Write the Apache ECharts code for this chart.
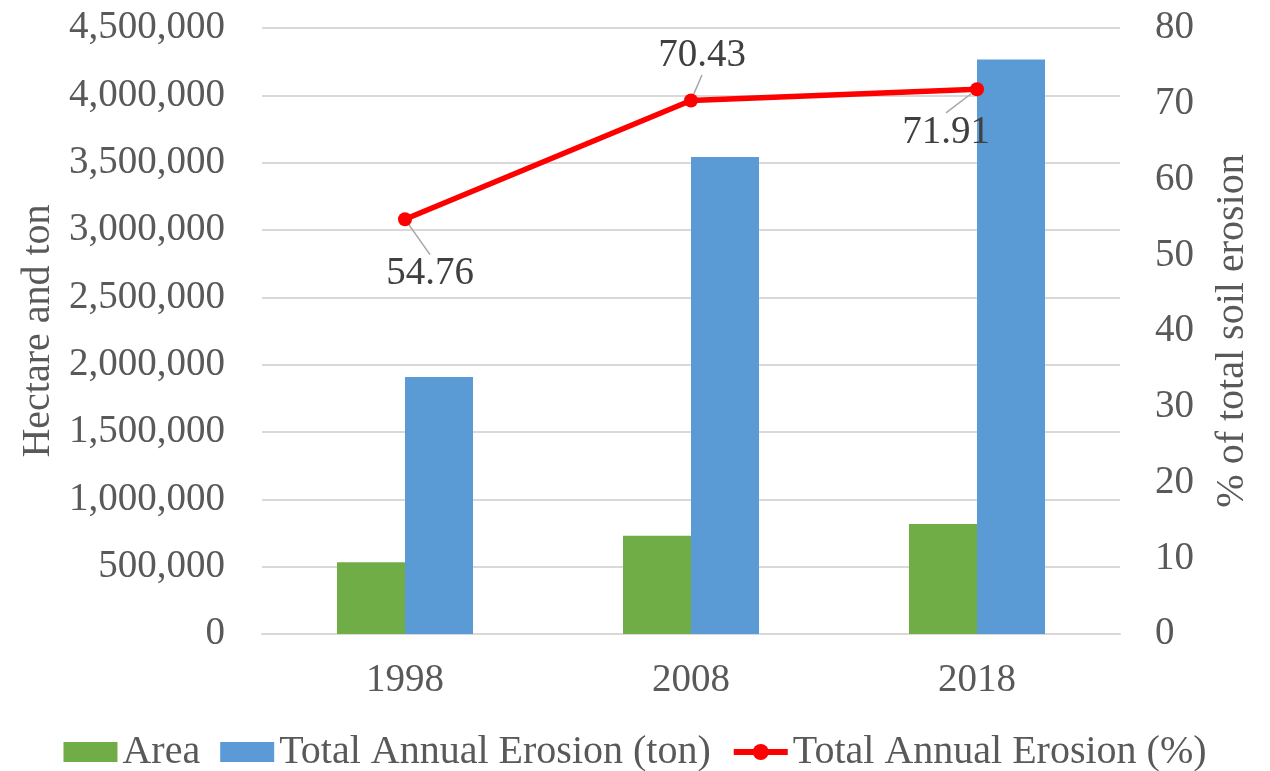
<!DOCTYPE html>
<html><head><meta charset="utf-8">
<script src="https://cdn.jsdelivr.net/npm/echarts@6/dist/echarts.min.js"></script>
<style>html,body{margin:0;padding:0;background:#fff}#c{width:1270px;height:771px}</style>
</head><body><div id="c"></div>
<script>
const categories = ['1998', '2008', '2018'];
const areaValues = [532000, 730000, 817000];
const erosionTon = [1908000, 3542000, 4266000];
const erosionPct = [54.76, 70.43, 71.91];
const leftTicks = [0, 4500000, 500000];
const rightTicks = [0, 80, 10];

const font = 'Liberation Serif, Times New Roman, serif';
const txt = '#595959';
const chart = echarts.init(document.getElementById('c'));
chart.setOption({
  animation: false,
  textStyle: { fontFamily: font },
  grid: { left: 262, right: 150, top: 28, bottom: 137 },
  legend: {
    top: 727, left: 'center', itemGap: 20, itemWidth: 54, itemHeight: 20,
    textStyle: { fontFamily: font, fontSize: 40, color: txt },
    lineStyle: { width: 6 },
    data: [
      { name: 'Area', icon: 'rect' },
      { name: 'Total Annual Erosion (ton)', icon: 'rect' },
      { name: 'Total Annual Erosion (%)' }
    ]
  },
  xAxis: {
    type: 'category', data: categories,
    axisLine: { lineStyle: { color: '#d9d9d9', width: 2 } },
    axisTick: { show: false },
    axisLabel: { fontFamily: font, fontSize: 39, color: txt, margin: 27 }
  },
  yAxis: [
    {
      type: 'value', min: leftTicks[0], max: leftTicks[1], interval: leftTicks[2],
      name: 'Hectare and ton', nameLocation: 'middle', nameGap: 204,
      nameTextStyle: { fontFamily: font, fontSize: 40, color: txt },
      axisLabel: { fontFamily: font, fontSize: 39, color: txt, margin: 37,
        formatter: v => v.toLocaleString('en-US') },
      splitLine: { lineStyle: { color: '#d9d9d9', width: 2 } },
      axisLine: { show: false }, axisTick: { show: false }
    },
    {
      type: 'value', min: rightTicks[0], max: rightTicks[1], interval: rightTicks[2],
      name: '% of total soil erosion', nameLocation: 'middle', nameGap: 92,
      nameTextStyle: { fontFamily: font, fontSize: 40, color: txt },
      axisLabel: { fontFamily: font, fontSize: 39, color: txt, margin: 35 },
      splitLine: { show: false },
      axisLine: { show: false }, axisTick: { show: false }
    }
  ],
  series: [
    { name: 'Area', type: 'bar', data: areaValues, barWidth: 68, barGap: '0%',
      itemStyle: { color: '#70AD47' } },
    { name: 'Total Annual Erosion (ton)', type: 'bar', data: erosionTon, barWidth: 68,
      itemStyle: { color: '#5B9BD5' } },
    { name: 'Total Annual Erosion (%)', type: 'line', yAxisIndex: 1, data: erosionPct,
      symbol: 'circle', symbolSize: 14,
      lineStyle: { color: '#ff0000', width: 5.5 }, itemStyle: { color: '#ff0000' },
      label: { show: true, position: 'inside', fontFamily: font, fontSize: 39, color: '#404040',
        formatter: p => p.value.toFixed(2) },
      labelLine: { show: true, lineStyle: { color: '#a6a6a6', width: 1.5 } },
      labelLayout: p => {
        const d = [[ 25, 55 ], [ 11, -45 ], [ -31, 43 ]][p.dataIndex];
        return { dx: d[0], dy: d[1] };
      },
      z: 5
    }
  ]
});
</script></body></html>
